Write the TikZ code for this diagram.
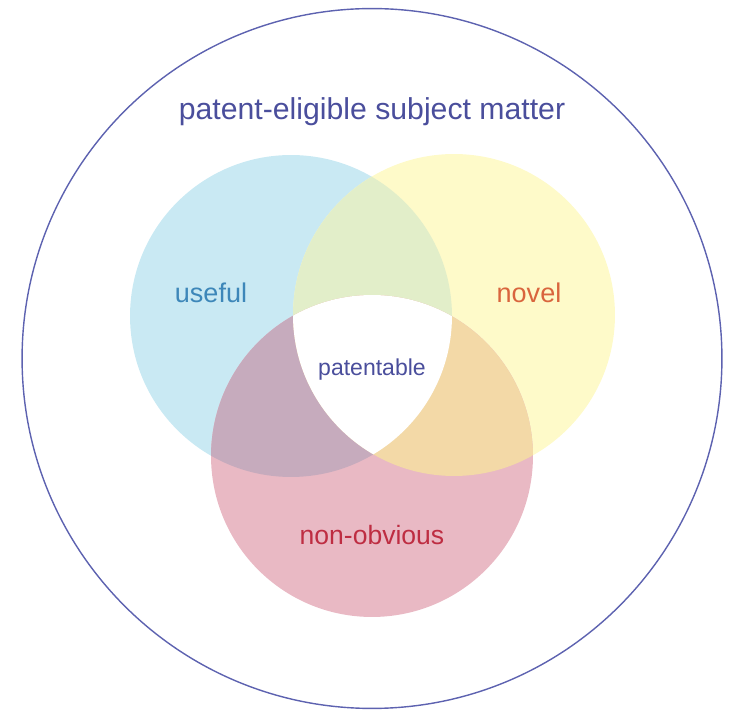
\documentclass[tikz,border=0pt]{standalone}
\usepackage{fontspec}
\setmainfont{Liberation Sans}

\definecolor{usefulfill}{HTML}{C9E9F3}
\definecolor{novelfill}{HTML}{FEFAC9}
\definecolor{obviousfill}{HTML}{E9B9C4}
\definecolor{usenovel}{HTML}{E2EEC9}
\definecolor{useobvious}{HTML}{C6ABBD}
\definecolor{novelobvious}{HTML}{F3D9A7}
\definecolor{ringblue}{HTML}{5D62B0}
\definecolor{titleblue}{HTML}{4A4E9C}
\definecolor{usefultext}{HTML}{3D87B9}
\definecolor{noveltext}{HTML}{D9653D}
\definecolor{obvioustext}{HTML}{BE2D42}

\begin{document}
\begin{tikzpicture}[x=0.02cm, y=-0.02cm,
    setlabel/.style={font=\fontsize{15.4}{18}\selectfont}]
    \useasboundingbox (0,0) rectangle (731,712);

    % Centres of the three sets
    \coordinate (useful) at (291,316);
    \coordinate (novel) at (454,315);
    \coordinate (obvious) at (372,456);
    \coordinate (eligible) at (372,358.5);

    % Outer ring
    \draw[ringblue, line width=0.8pt] (eligible) circle (7cm);

    % The three sets
    \fill[usefulfill] (useful) circle (3.22cm);
    \fill[novelfill] (novel) circle (3.22cm);
    \fill[obviousfill] (obvious) circle (3.22cm);

    % Pairwise overlaps
    \begin{scope}
        \clip (useful) circle (3.22cm);
        \fill[usenovel] (novel) circle (3.22cm);
        \fill[useobvious] (obvious) circle (3.22cm);
    \end{scope}
    \begin{scope}
        \clip (novel) circle (3.22cm);
        \fill[novelobvious] (obvious) circle (3.22cm);
    \end{scope}

    % All three
    \begin{scope}
        \clip (useful) circle (3.22cm);
        \clip (novel) circle (3.22cm);
        \fill[white] (obvious) circle (3.22cm);
    \end{scope}

    % Labels
    \node[titleblue, font=\fontsize{17.2}{20}\selectfont] (title) at (372,112) {patent-eligible subject matter};
    \node[usefultext, setlabel] (usefullabel) at (211,293) {useful};
    \node[noveltext, setlabel] (novellabel) at (529,293) {novel};
    \node[obvioustext, font=\fontsize{15.1}{18}\selectfont] (obviouslabel) at (372,535) {non-obvious};
    \node[titleblue, font=\fontsize{13.1}{16}\selectfont] (patentable) at (372,370) {patentable};
\end{tikzpicture}
\end{document}
